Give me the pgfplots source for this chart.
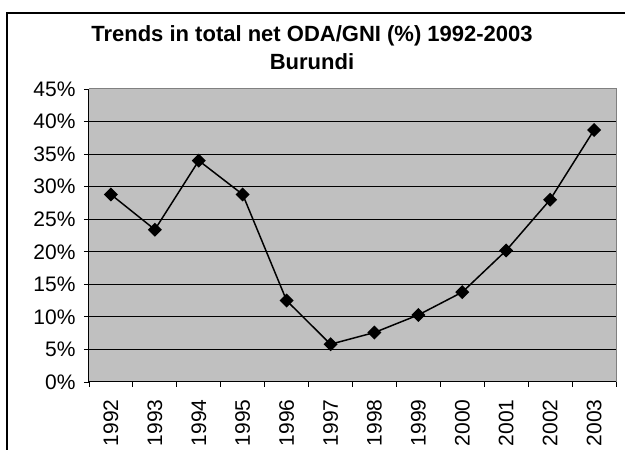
\documentclass[border=0pt]{standalone}
\usepackage{pgfplots}
\pgfplotsset{compat=1.18}
\usepackage{fontspec}
\setmainfont{Liberation Sans}

\definecolor{plotbg}{HTML}{C0C0C0}
\definecolor{frame}{HTML}{808080}

\pgfplotstableread{
idx year value
0  1992 28.8
1  1993 23.4
2  1994 34.0
3  1995 28.8
4  1996 12.5
5  1997 5.8
6  1998 7.6
7  1999 10.3
8  2000 13.8
9  2001 20.2
10 2002 28.0
11 2003 38.7
}\odadata

\newcommand\tickfont{\fontsize{21pt}{23pt}\selectfont}

\begin{document}
\begin{tikzpicture}
\useasboundingbox (0,0) rectangle (625pt,450pt);
% chart frame (cropped at right and bottom)
\draw[black, line width=1.5pt] (7pt,-1pt) -- (7pt,437pt) -- (626pt,437pt);

\node[anchor=base, font=\fontsize{22}{26}\selectfont\bfseries] at (312pt,408pt)
  {Trends in total net ODA/GNI (\%) 1992-2003};
\node[anchor=base, font=\fontsize{22}{26}\selectfont\bfseries] at (312pt,380pt)
  {Burundi};

\begin{axis}[
    at={(89pt,68pt)}, anchor=south west,
    scale only axis,
    width=527pt, height=293pt,
    xmin=-0.5, xmax=11.5,
    ymin=0, ymax=45,
    axis background/.style={fill=plotbg},
    axis x line*=bottom, axis y line*=left,
    axis line style={black, line width=1pt},
    xtick={-0.5,0.5,...,11.5},
    x tick label as interval,
    xticklabels={1992,1993,1994,1995,1996,1997,1998,1999,2000,2001,2002,2003},
    xticklabel style={rotate=90, anchor=east, xshift=-9pt, font=\tickfont},
    ytick={0,5,...,45},
    yticklabel={\pgfmathprintnumber{\tick}\%},
    yticklabel style={xshift=-5pt, font=\tickfont},
    extra y ticks={5,10,...,40},
    extra y tick labels={},
    extra y tick style={grid=major, major tick length=0pt},
    grid style={black, line width=0.9pt},
    tick align=outside,
    major tick length=5pt,
    tick style={black, line width=0.9pt},
    /pgf/number format/assume math mode=true,
    clip=false,
  ]
  \draw[frame, line width=1pt] (rel axis cs:0,1) -- (rel axis cs:1,1) -- (rel axis cs:1,0);
  \addplot[black, line width=1.5pt, mark=square*, mark size=4.2pt,
           mark options={solid, fill=black, rotate=45}]
    table[x=idx, y=value] {\odadata};
\end{axis}
\end{tikzpicture}
\end{document}
